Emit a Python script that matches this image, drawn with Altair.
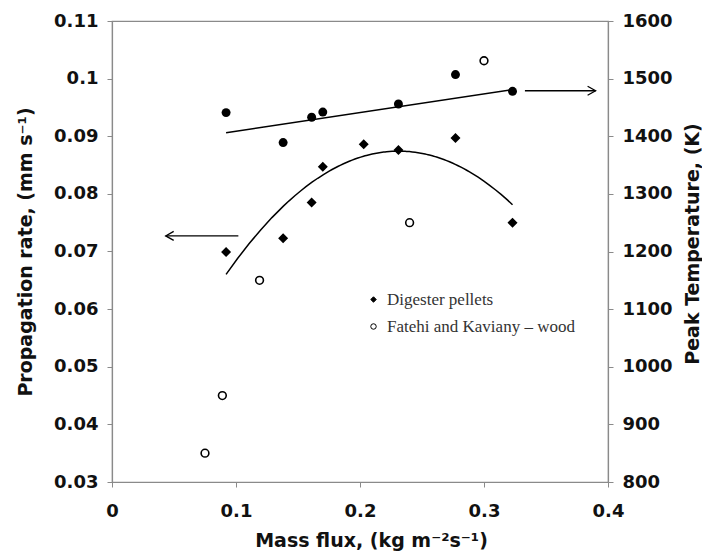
import altair as alt
import pandas as pd

# ---- data ----
dig_x = [0.092, 0.138, 0.161, 0.170, 0.203, 0.231, 0.277, 0.323]
dig_rate = [0.0699, 0.0723, 0.0785, 0.0847, 0.0886, 0.0876, 0.0897, 0.0750]

wood_x = [0.075, 0.089, 0.119, 0.240, 0.300]
wood_rate = [0.035, 0.045, 0.065, 0.075, 0.1031]

temp_x = [0.092, 0.138, 0.161, 0.170, 0.231, 0.277, 0.323]
temp_K = [1441, 1389, 1433, 1442, 1456, 1507, 1478]

# straight trend line drawn on the temperature data (end points)
temp_fit_x = [0.092, 0.323]
temp_fit_K = [1406, 1481]

series_names = ["Digester pellets", "Fatehi and Kaviany \u2013 wood"]

arrow_left_x = [0.0433, 0.1019]
arrow_left_rate = 0.0727
arrow_right_x = [0.333, 0.390]
arrow_right_K = 1479

x_ticks = [0, 0.1, 0.2, 0.3, 0.4]
rate_ticks = [0.03, 0.04, 0.05, 0.06, 0.07, 0.08, 0.09, 0.1, 0.11]
temp_ticks = [800, 900, 1000, 1100, 1200, 1300, 1400, 1500, 1600]

# ---- tables ----
pts = pd.DataFrame({
    "x": dig_x + wood_x,
    "rate": dig_rate + wood_rate,
    "series": [series_names[0]] * len(dig_x) + [series_names[1]] * len(wood_x),
})
dig = pd.DataFrame({"x": dig_x, "rate": dig_rate})
temp = pd.DataFrame({"x": temp_x, "K": temp_K})
tfit = pd.DataFrame({"x": temp_fit_x, "K": temp_fit_K})
arrL = pd.DataFrame({"x": [arrow_left_x[0]], "x2": [arrow_left_x[1]], "rate": [arrow_left_rate]})
arrR = pd.DataFrame({"x": [arrow_right_x[1]], "x2": [arrow_right_x[0]], "K": [arrow_right_K]})

FONT = "DejaVu Sans"
GRAY = "#8a8a8a"
W, H = 496, 461

x_enc = alt.X("x:Q",
              scale=alt.Scale(domain=[0, 0.4], nice=False),
              axis=alt.Axis(values=x_ticks, format="~g",
                            title="Mass flux, (kg m\u207b\u00b2s\u207b\u00b9)",
                            labelPadding=15, titleX=259, titleY=64,
                            titleBaseline="alphabetic", titleAlign="center"))
y_left = alt.Y("rate:Q",
               scale=alt.Scale(domain=[0.03, 0.11], nice=False, zero=False),
               axis=alt.Axis(values=rate_ticks, format="~g", orient="left",
                             title="Propagation rate, (mm s\u207b\u00b9)",
                             titleX=-87, titleY=H / 2, titleBaseline="middle",
                             titleAngle=270, titleAlign="center"))
y_right = alt.Y("K:Q",
                scale=alt.Scale(domain=[800, 1600], nice=False, zero=False),
                axis=alt.Axis(values=temp_ticks, format="d", orient="right",
                              title="Peak Temperature, (K)", titleAngle=270,
                              titleX=84, titleY=H / 2 - 8, titleBaseline="middle",
                              titleAlign="center"))

points = alt.Chart(pts).mark_point(filled=True, size=60, strokeWidth=1.6, opacity=1).encode(
    x=x_enc, y=y_left,
    shape=alt.Shape("series:N", scale=alt.Scale(domain=series_names, range=["diamond", "circle"]),
                    legend=alt.Legend(title=None, orient="none", legendX=253, legendY=270,
                                      labelFont="Liberation Serif", labelFontSize=17,
                                      labelColor="#333", symbolSize=30, rowPadding=9,
                                      symbolStrokeWidth=1, symbolOpacity=1,
                                      labelOffset=5, labelLimit=400)),
    fill=alt.Fill("series:N", scale=alt.Scale(domain=series_names, range=["black", "white"])),
    stroke=alt.Stroke("series:N", scale=alt.Scale(domain=series_names, range=["black", "black"])),
)

curve = alt.Chart(dig).transform_regression("x", "rate", method="poly", order=2).mark_line(
    color="black", strokeWidth=1.5).encode(x=x_enc, y=y_left)

arrL_rule = alt.Chart(arrL).mark_rule(color="black", strokeWidth=1.3).encode(
    x=x_enc, x2="x2:Q", y=y_left)
arrL_head = alt.Chart(arrL).mark_point(shape="M1.6,-0.9L0,0L1.6,0.9", filled=False, size=100,
                                       color="black", strokeWidth=1.3, opacity=1).encode(x=x_enc, y=y_left)

left = alt.layer(curve, points, arrL_rule, arrL_head)

temp_pts = alt.Chart(temp).mark_circle(size=80, color="black", opacity=1).encode(x=x_enc, y=y_right)
temp_line = alt.Chart(tfit).mark_line(color="black", strokeWidth=1.5).encode(x=x_enc, y=y_right)
arrR_rule = alt.Chart(arrR).mark_rule(color="black", strokeWidth=1.3).encode(
    x=x_enc, x2="x2:Q", y=y_right)
arrR_head = alt.Chart(arrR).mark_point(shape="M-1.6,-0.9L0,0L-1.6,0.9", filled=False, size=100,
                                       color="black", strokeWidth=1.3, opacity=1).encode(x=x_enc, y=y_right)

right = alt.layer(temp_line, temp_pts, arrR_rule, arrR_head)

chart = alt.layer(left, right).resolve_scale(y="independent").properties(
    width=W, height=H,
    padding={"left": 104, "top": 13, "right": 94, "bottom": 69},
    autosize=alt.AutoSizeParams(type="none"),
).configure_view(stroke=GRAY, strokeWidth=1.2).configure_axis(
    grid=False, domainColor=GRAY, tickColor=GRAY, domainWidth=1.2, tickSize=5,
    labelFont=FONT, labelFontSize=18, labelFontWeight="bold", labelColor="#111",
    titleFont=FONT, titleFontSize=19, titleFontWeight="bold", titleColor="#111",
    labelPadding=9, labelFlush=False, labelOverlap=False,
)

chart.save("out.html", embed_options={"renderer": "svg", "actions": False})
